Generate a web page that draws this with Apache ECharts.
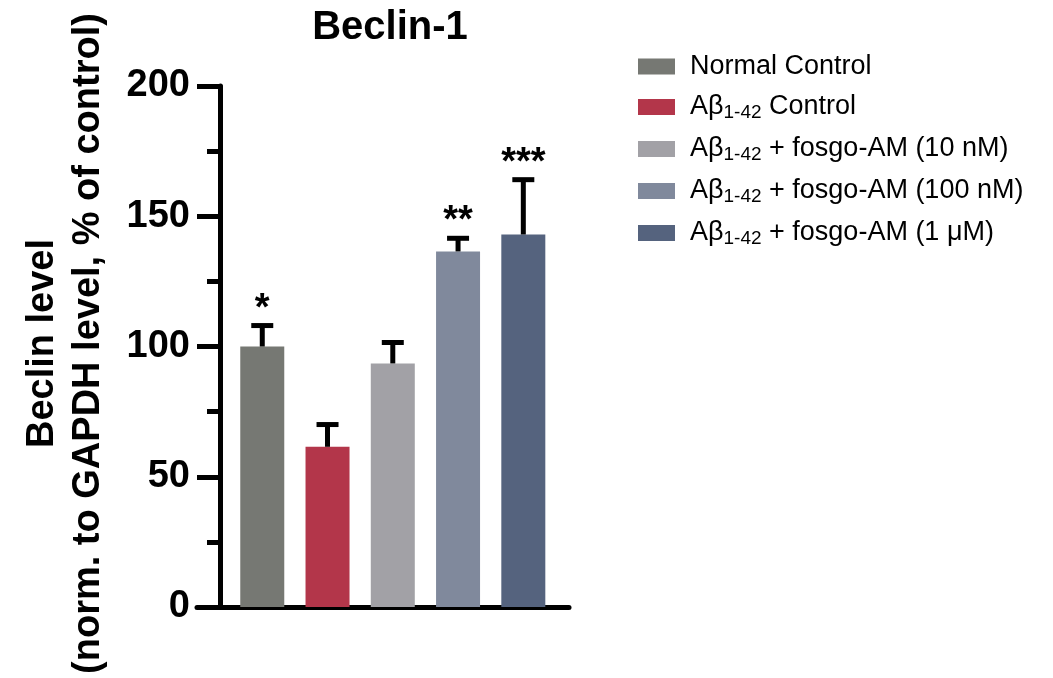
<!DOCTYPE html>
<html>
<head>
<meta charset="utf-8">
<script src="https://cdn.jsdelivr.net/npm/echarts@6/dist/echarts.min.js"></script>
<style>html,body{margin:0;padding:0;background:#fff}#chart{width:1053px;height:678px}</style>
</head>
<body>
<div id="chart"></div>
<script>
// ---- data ----
const groupNames = ['Normal Control', 'Aβ1-42 Control', 'Aβ1-42 + fosgo-AM (10 nM)', 'Aβ1-42 + fosgo-AM (100 nM)', 'Aβ1-42 + fosgo-AM (1 μM)'];
const groupPositions = [1, 2, 3, 4, 5];
const meanValues = [100, 61.5, 93.5, 136.5, 143];
const errorUpper = [109, 71, 102.5, 142.5, 165];
const significance = ['*', '', '', '**', '***'];
const barColors = ['#767873', '#B3364A', '#A2A1A6', '#80899C', '#55637E'];
const yTicks = { min: 0, max: 200, interval: 50 };

const FONT = '"Liberation Sans", Arial, Helvetica, sans-serif';

const chart = echarts.init(document.getElementById('chart'));

const barSeries = groupNames.map((name, i) => ({
  name: name,
  type: 'bar',
  barWidth: 44,
  barGap: '-100%',
  itemStyle: { color: barColors[i] },
  data: [[groupPositions[i], meanValues[i]]],
  z: 2
}));

const errData = groupPositions.map((x, i) => [x, meanValues[i], errorUpper[i]]);

const errSeries = {
  type: 'custom',
  name: 'err',
  z: 5,
  data: errData,
  renderItem: function (params, api) {
    const x = api.value(0);
    const p0 = api.coord([x, api.value(1)]);
    const p1 = api.coord([x, api.value(2)]);
    const star = significance[params.dataIndex];
    const children = [
      { type: 'line', shape: { x1: p0[0], y1: p0[1], x2: p1[0], y2: p1[1] + 2.5 }, style: { stroke: '#000', lineWidth: 5 } },
      { type: 'line', shape: { x1: p1[0] - 11, y1: p1[1] + 2.5, x2: p1[0] + 11, y2: p1[1] + 2.5 }, style: { stroke: '#000', lineWidth: 5 } }
    ];
    if (star) {
      children.push({ type: 'text', style: { text: star, x: p1[0], y: p1[1] - 14, align: 'center', verticalAlign: 'middle', font: 'bold 38px ' + FONT, fill: '#000' } });
    }
    return { type: 'group', children: children };
  }
};

function legendLabel(name) {
  const m = name.match(/^Aβ1-42(.*)$/);
  if (m) return '{n|Aβ}{s|1-42}{n|' + m[1] + '}';
  return '{n|' + name + '}';
}

chart.setOption({
  animation: false,
  backgroundColor: '#fff',
  title: {
    text: 'Beclin-1',
    left: 385,
    top: 3,
    textAlign: 'center',
    textStyle: { fontFamily: FONT, fontWeight: 'bold', fontSize: 40, color: '#000' }
  },
  legend: {
    data: groupNames,
    orient: 'vertical',
    left: 633,
    top: 48,
    itemWidth: 37,
    itemHeight: 16,
    itemGap: 13.5,
    icon: 'rect',
    formatter: legendLabel,
    textStyle: {
      color: '#000',
      fontFamily: FONT,
      fontSize: 27,
      padding: [0, 0, 0, 10],
      rich: {
        n: { fontFamily: FONT, fontSize: 27, lineHeight: 30, color: '#000' },
        s: { fontFamily: FONT, fontSize: 19, lineHeight: 12, verticalAlign: 'bottom', color: '#000' }
      }
    }
  },
  grid: { left: 197, width: 372, top: 86, bottom: 71, containLabel: false, outerBoundsMode: 'none' },
  xAxis: {
    type: 'value',
    min: 0,
    max: 5.7,
    axisLine: { show: true, onZero: false, lineStyle: { color: '#000', width: 5 } },
    axisTick: { show: false },
    axisLabel: { show: false },
    splitLine: { show: false }
  },
  yAxis: {
    type: 'value',
    min: yTicks.min,
    max: yTicks.max,
    interval: yTicks.interval,
    offset: -23,
    name: 'Beclin level\n(norm. to GAPDH level, % of control)',
    nameLocation: 'middle',
    nameRotate: 90,
    nameGap: 108,
    nameTextStyle: { fontFamily: FONT, fontWeight: 'bold', fontSize: 38, lineHeight: 46, color: '#000', padding: [0, 0, 0, 6] },
    axisLine: { show: true, lineStyle: { color: '#000', width: 5 } },
    axisTick: { show: true, length: 23, lineStyle: { color: '#000', width: 5 } },
    minorTick: { show: true, splitNumber: 2, length: 13, lineStyle: { color: '#000', width: 5 } },
    axisLabel: { fontFamily: FONT, fontWeight: 'bold', fontSize: 38, color: '#000', margin: 30 },
    splitLine: { show: false },
    minorSplitLine: { show: false }
  },
  series: barSeries.concat([errSeries])
});
</script>
</body>
</html>
